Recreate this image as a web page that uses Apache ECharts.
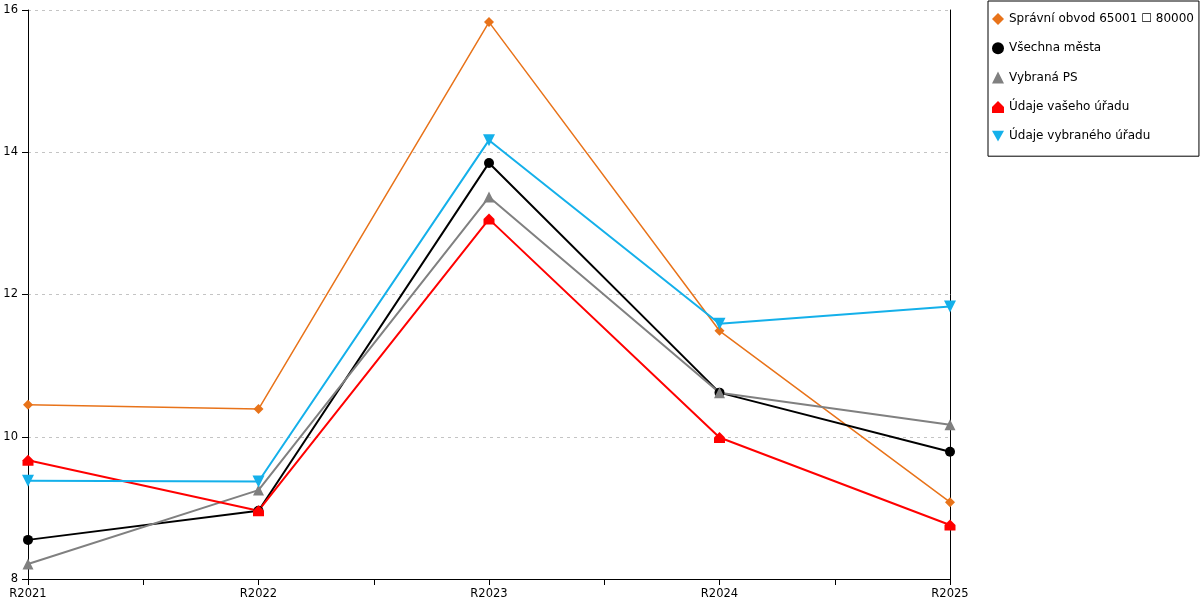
<!DOCTYPE html>
<html>
<head>
<meta charset="utf-8">
<script src="https://cdn.jsdelivr.net/npm/echarts@6/dist/echarts.min.js"></script>
<style>
  html, body { margin: 0; padding: 0; background: #fff; }
  #chart { width: 1200px; height: 600px; }
</style>
</head>
<body>
<div id="chart"></div>
<script>
'use strict';

var categories = ['R2021', 'R2022', 'R2023', 'R2024', 'R2025'];
var yTicks = [8, 10, 12, 14, 16];

var spravniObvod = [10.45, 10.39, 15.83, 11.49, 9.08];
var vsechnaMesta = [8.55, 8.96, 13.85, 10.62, 9.79];
var vybranaPS = [8.21, 9.25, 13.37, 10.62, 10.17];
var udajeVaseho = [9.67, 8.96, 13.06, 9.99, 8.76];
var udajeVybraneho = [9.38, 9.37, 14.17, 11.59, 11.83];

var HOUSE = 'path://M0,5 L5,0 L10,5 L10,10 L0,10 Z';
var DOWN = 'path://M0,0 L10,0 L5,9 Z';

function toPoints(values) {
  var out = [];
  for (var i = 0; i < values.length; i++) {
    out.push([i, values[i]]);
  }
  return out;
}

function makeSeries(name, values, color, symbol, size, width) {
  return {
    name: name,
    type: 'line',
    data: toPoints(values),
    symbol: symbol,
    symbolSize: size,
    showAllSymbol: true,
    lineStyle: { color: color, width: width },
    itemStyle: { color: color },
    emphasis: { disabled: true }
  };
}

var font = 'DejaVu Sans';

var option = {
  animation: false,
  textStyle: { fontFamily: font },
  grid: {
    left: 28,
    right: 250,
    top: 10,
    bottom: 21
  },
  legend: {
    orient: 'vertical',
    left: 988,
    top: 1,
    padding: [12, 5, 14, 4],
    itemWidth: 12,
    itemHeight: 12,
    itemGap: 17.3,
    borderColor: '#000',
    borderWidth: 1,
    textStyle: { fontFamily: font, fontSize: 12, color: '#000' },
    data: [
      { name: 'Správní obvod 65001 ☐ 80000', icon: 'diamond' },
      { name: 'Všechna města', icon: 'circle' },
      { name: 'Vybraná PS', icon: 'triangle' },
      { name: 'Údaje vašeho úřadu', icon: HOUSE },
      { name: 'Údaje vybraného úřadu', icon: DOWN }
    ]
  },
  xAxis: {
    type: 'value',
    min: 0,
    max: categories.length - 1,
    interval: 0.5,
    axisLine: { show: true, lineStyle: { color: '#000', width: 1 } },
    axisTick: { show: true, length: 6, lineStyle: { color: '#000' } },
    splitLine: { show: false },
    axisLabel: {
      color: '#000',
      fontSize: 11.5,
      fontFamily: font,
      margin: 9,
      showMinLabel: true,
      showMaxLabel: true,
      formatter: function (v) {
        return Number.isInteger(v) ? categories[v] : '';
      }
    }
  },
  yAxis: [{
    type: 'value',
    min: yTicks[0],
    max: yTicks[yTicks.length - 1],
    interval: 2,
    axisLine: { show: true, lineStyle: { color: '#000', width: 1 } },
    axisTick: { show: true, length: 6, lineStyle: { color: '#000' } },
    axisLabel: { color: '#000', fontSize: 11.5, fontFamily: font, margin: 10 },
    splitLine: {
      show: true,
      lineStyle: { color: '#c4c4c4', type: [3, 4], width: 1 }
    }
  }, {
    type: 'value',
    position: 'right',
    min: yTicks[0],
    max: yTicks[yTicks.length - 1],
    interval: 2,
    axisLine: { show: true, lineStyle: { color: '#000', width: 1 } },
    axisTick: { show: false },
    axisLabel: { show: false },
    splitLine: { show: false }
  }],
  series: [
    makeSeries('Správní obvod 65001 ☐ 80000', spravniObvod, '#e8731a', 'diamond', 10, 1.5),
    makeSeries('Všechna města', vsechnaMesta, '#000000', 'circle', 10, 2),
    makeSeries('Vybraná PS', vybranaPS, '#808080', 'triangle', 11, 2),
    makeSeries('Údaje vašeho úřadu', udajeVaseho, '#ff0000', HOUSE, 11, 2),
    makeSeries('Údaje vybraného úřadu', udajeVybraneho, '#14b0ea', DOWN, 12, 2)
  ]
};

var myChart = echarts.init(document.getElementById('chart'));
myChart.setOption(option);
</script>
</body>
</html>
